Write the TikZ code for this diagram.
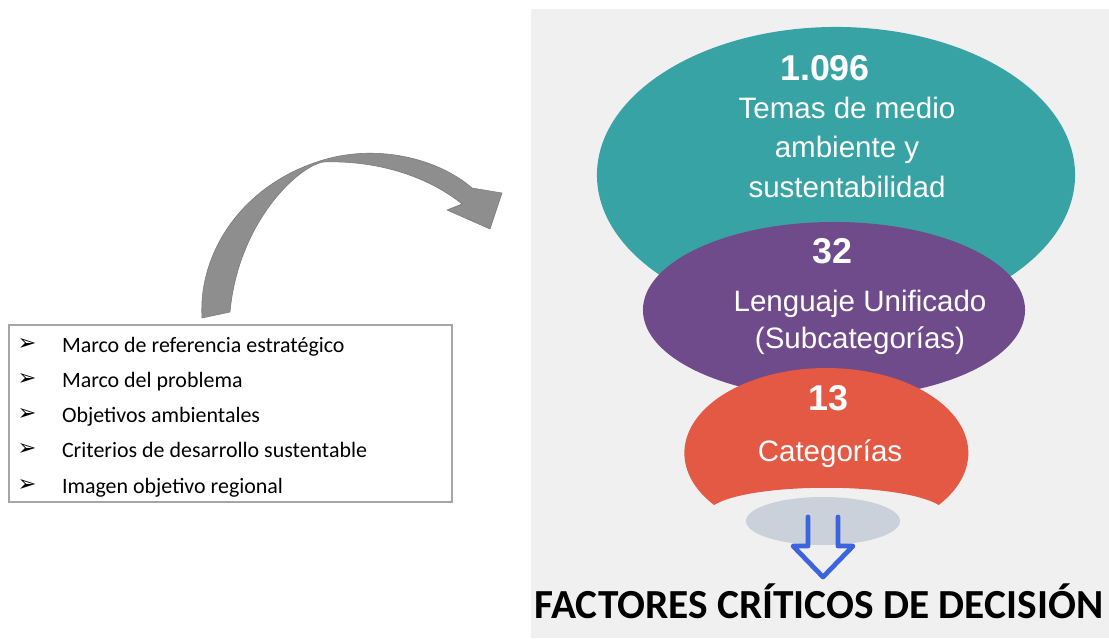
\documentclass[tikz,border=0pt]{standalone}
\usepackage{fontspec}
\setmainfont{Liberation Sans}
\newfontfamily\calibrifont{Carlito}
\newfontfamily\dingfont{DejaVu Sans}
\usepackage{tikz}
\usetikzlibrary{
arrows.meta,
positioning,
shapes.geometric
}
\definecolor{fcdteal}{HTML}{38A3A5}
\definecolor{fcdpurple}{HTML}{704B8B}
\definecolor{fcdred}{HTML}{E35944}
\definecolor{fcdgray}{HTML}{CBD1DA}
\definecolor{fcdpanel}{HTML}{F0F0F0}
\definecolor{fcdblue}{HTML}{3D64DC}
\definecolor{fcdarrow}{HTML}{8E8E8E}
\definecolor{fcdframe}{HTML}{A6A6A6}

\begin{document}
\begin{tikzpicture}[
  x=0.025cm, y=-0.025cm,
  every node/.style={inner sep=0pt, outer sep=0pt},
  itemtext/.style={font=\calibrifont\fontsize{15.6}{18}\selectfont, anchor=base west},
  bulletmark/.style={font=\dingfont\fontsize{16}{18}\selectfont},
  funnelnum/.style={font=\bfseries\fontsize{25.5}{28}\selectfont, text=white, anchor=base},
  funneltext/.style={font=\fontsize{21}{28}\selectfont, text=white, align=center, anchor=base}
]
\useasboundingbox (0,0) rectangle (1109,638);

%% ── PANEL ───────────────────────────────────────────────────────
\fill[fcdpanel] (531,9) rectangle (1109,638);

%% ── FUNNEL ──────────────────────────────────────────────────────
\node[ellipse, fill=fcdteal, minimum width=11.95cm, minimum height=7.4cm]
  (temas) at (836,175) {};
\node[ellipse, fill=fcdpurple, minimum width=9.55cm, minimum height=4.4cm]
  (lenguaje) at (834,310) {};
\fill[fcdred] (714,505) arc[start angle=142.3, end angle=397.7,
  x radius=142, y radius=85]
  .. controls (900,482) and (752,482) .. (714,505) -- cycle;
\node[ellipse, fill=fcdgray, minimum width=3.85cm, minimum height=1.2cm]
  (salida) at (823,521) {};

%% labels (base = last line)
\node[funnelnum] (num1) at (825,80) {1.096};
\node[funneltext] (lab1) at (847,197)
  {Temas de medio\\ambiente y\\sustentabilidad};
\node[funnelnum] (num2) at (832,263) {32};
\node[funneltext, font=\fontsize{21}{26}\selectfont] (lab2) at (860,348)
  {Lenguaje Unificado\\(Subcategorías)};
\node[funnelnum] (num3) at (828,410) {13};
\node[funneltext] (lab3) at (830,461) {Categorías};

%% ── DOWN ARROW ──────────────────────────────────────────────────
\draw[fcdblue, line width=3.4pt, line join=round, line cap=round]
  (808,517) -- (808,546) -- (793,546) -- (823,577)
  -- (853,546) -- (838,546) -- (838,517);

\node[font=\calibrifont\bfseries\fontsize{29.4}{32}\selectfont, anchor=base]
  (fcd) at (819,618) {FACTORES CRÍTICOS DE DECISIÓN};

%% ── LEFT LIST ───────────────────────────────────────────────────
\draw[fcdframe, line width=0.9pt] (9,325) rectangle (452,502);
\foreach \yy/\txt [count=\i] in {352/Marco de referencia estratégico,
  387/Marco del problema, 422/Objetivos ambientales,
  457/Criterios de desarrollo sustentable, 493/Imagen objetivo regional}{
  \node[bulletmark] (bul\i) at (27,\yy-8) {➢};
  \node[itemtext] (item\i) at (62,\yy) {\txt};
}

%% ── CURVED ARROW ────────────────────────────────────────────────
\filldraw[fill=fcdarrow, draw=fcdarrow!85!black, line width=0.4pt]
  (202,318) .. controls (198,255) and (240,185) .. (323,160)
  .. controls (380,143) and (440,160) .. (472,188)
  -- (502,193) -- (490,229) -- (447,210) -- (462,204)
  .. controls (430,178) and (380,160) .. (323,162)
  .. controls (295,168) and (238,225) .. (230,312) -- cycle;

\end{tikzpicture}
\end{document}
